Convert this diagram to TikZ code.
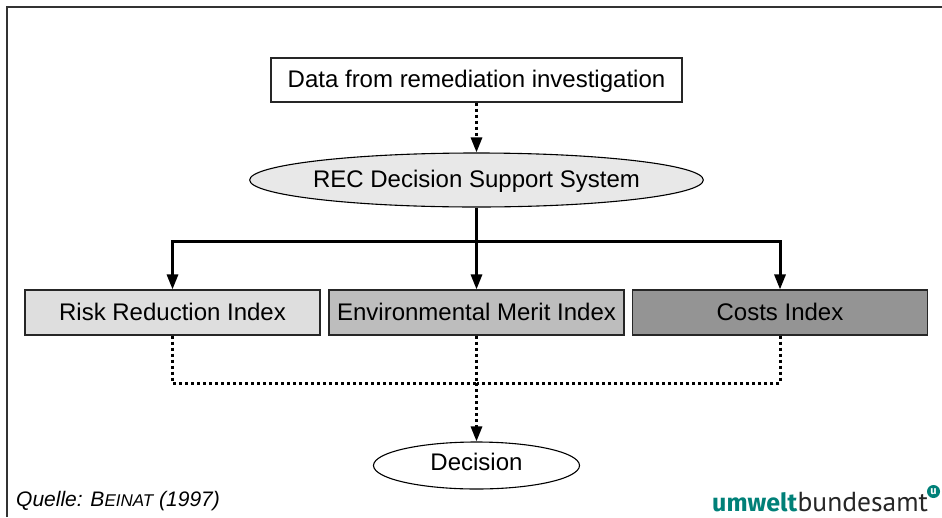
\documentclass[tikz,border=0pt]{standalone}
\usepackage{fontspec}
\setmainfont{Liberation Sans}
\newfontfamily\logobold{Fira Sans}[BoldFont={Fira Sans Bold}]
\newfontfamily\logolight{PT Sans}
\usetikzlibrary{shapes.geometric,arrows.meta}
\definecolor{ubagreen}{RGB}{0,128,120}
\tikzset{
  idxbox/.style={draw=black!85,line width=1.1pt,minimum width=295pt,minimum height=45pt,inner sep=0pt,text height=17pt,text depth=2pt},
  oval/.style={draw=black,ellipse,line width=1.1pt,inner ysep=0pt,inner xsep=-3pt,text height=17pt,text depth=2pt},
  solidline/.style={line width=3pt},
  solidarrow/.style={solidline,-{Triangle[length=15pt,width=11pt]}},
  dotline/.style={line width=3pt,dash pattern=on 3pt off 3pt},
  dotarrow/.style={dotline,-{Triangle[length=15pt,width=11pt]}},
}
\begin{document}
\begin{tikzpicture}[x=1pt,y=-1pt,font=\fontsize{24}{28}\selectfont]
   \useasboundingbox (0,0) rectangle (942,517);
   % Rahmen
   \draw[line width=1.3pt,black!80] (7,517) -- (7,7) -- (942,7);

   \node [idxbox,fill=white,minimum width=411pt,minimum height=44pt] (data) at (476.5,80) {Data from remediation investigation};
   \node [oval,fill=black!9,minimum width=453pt,minimum height=54pt] (rec) at (476.5,180) {REC Decision Support System};

   \node [idxbox,fill=black!13] (risk) at (172.5,312.5) {Risk Reduction Index};
   \node [idxbox,fill=black!26] (env) at (476.5,312.5) {Environmental Merit Index};
   \node [idxbox,fill=black!42] (costs) at (780,312.5) {Costs Index};

   \node [oval,fill=white,minimum width=206pt,minimum height=47pt,text depth=7pt] (decision) at (476.5,465.5) {Decision};

   \coordinate (split) at (476.5,241);
   \coordinate (join) at (476.5,383);

   \draw [dotarrow] (data) -- (rec);

   \draw [solidline] (rec) -- (split);
   \draw [solidarrow] (split) -- (env);
   \draw [solidarrow] (split) -| (risk);
   \draw [solidarrow] (split) -| (costs);

   \draw [dotline] (risk) |- (join);
   \draw [dotline] (costs) |- (join);
   \draw [dotline] (env) -- (join);
   \draw [dotarrow] (join) -- (decision);

   \node [anchor=base west,inner sep=0pt,font=\fontsize{21}{24}\selectfont\itshape] (source) at (16,506) {Quelle: B{\fontsize{17}{20}\selectfont EINAT} (1997)};

   % Logo
   \node [anchor=base west,inner sep=0pt,font=\fontsize{25}{28}\logobold\bfseries,text=ubagreen] (logoa) at (712,511) {umwelt};
   \node [anchor=base west,inner sep=0pt,font=\fontsize{27.5}{28}\logolight,text=black!85] (logob) at (logoa.base east) {bundesamt};
   \node [circle,fill=ubagreen,text=white,inner sep=0pt,minimum size=13pt,font=\fontsize{11}{11}\logobold\bfseries] (logoc) at (933.5,491.5) {u};
\end{tikzpicture}
\end{document}
